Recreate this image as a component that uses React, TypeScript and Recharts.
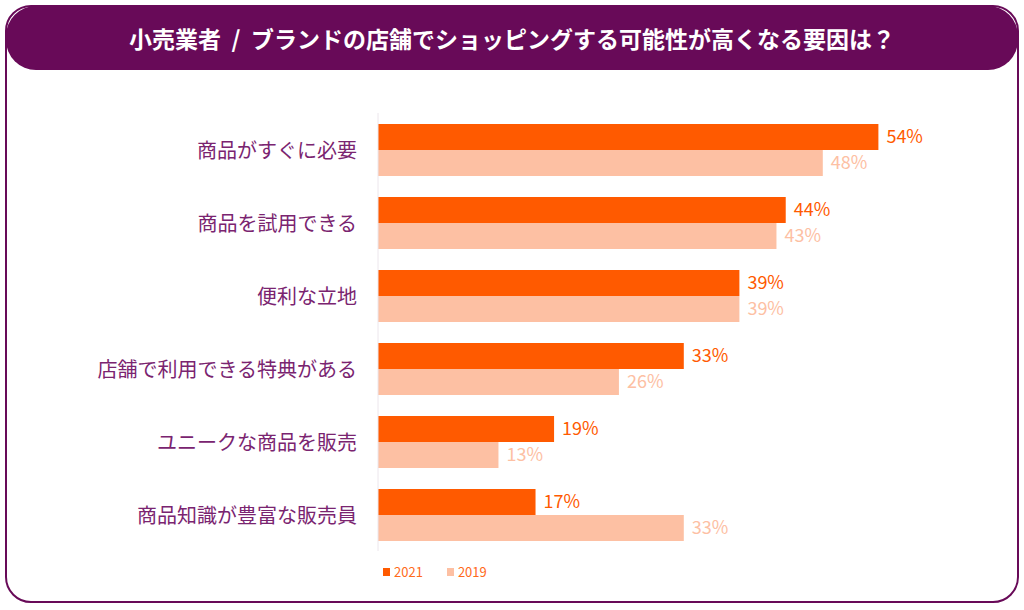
import { BarChart, Bar, XAxis, YAxis, LabelList, Legend } from "recharts";

const categories = [
  "商品がすぐに必要",
  "商品を試用できる",
  "便利な立地",
  "店舗で利用できる特典がある",
  "ユニークな商品を販売",
  "商品知識が豊富な販売員",
];
const values2021 = [54, 44, 39, 33, 19, 17];
const values2019 = [48, 43, 39, 26, 13, 33];
const seriesNames = ["2021", "2019"];

const title = "小売業者 \u00a0/\u00a0 ブランドの店舗でショッピングする可能性が高くなる要因は？";

const PURPLE = "#680a58";
const ORANGE = "#ff5a00";
const PEACH = "#fdc0a3";
const FONT = '"Noto Sans CJK JP", "Noto Sans", sans-serif';

const data = categories.map((name, i) => ({
  name,
  y2021: values2021[i],
  y2019: values2019[i],
}));

function CategoryTick(props: any) {
  const { x, y, payload } = props;
  return (
    <text
      x={x - 13}
      y={y}
      textAnchor="end"
      dominantBaseline="central"
      fontSize={20}
      fill="#7a2470"
      fontFamily={FONT}
    >
      {payload.value}
    </text>
  );
}

function LegendBox() {
  const items = [
    { label: seriesNames[0], color: ORANGE },
    { label: seriesNames[1], color: PEACH },
  ];
  return (
    <div style={{ display: "flex", gap: 24, fontFamily: FONT, fontSize: 13 }}>
      {items.map((it) => (
        <div key={it.label} style={{ display: "flex", alignItems: "center" }}>
          <span
            style={{
              width: 7,
              height: 8,
              background: it.color,
              display: "inline-block",
              marginRight: 4,
            }}
          />
          <span style={{ color: "#ff6a1a" }}>{it.label}</span>
        </div>
      ))}
    </div>
  );
}

export default function App() {
  return (
    <div
      style={{
        position: "absolute",
        left: 0,
        top: 0,
        width: 1024,
        height: 610,
        background: "#fff",
        fontFamily: FONT,
      }}
    >
      <div
        style={{
          position: "absolute",
          left: 5,
          top: 5,
          width: 1010,
          height: 594,
          border: `2px solid ${PURPLE}`,
          borderRadius: 26,
        }}
      />
      <div
        style={{
          position: "absolute",
          left: 6,
          top: 6,
          width: 1012,
          height: 64,
          background: PURPLE,
          borderRadius: 30,
          color: "#fff",
          fontWeight: "bold",
          fontSize: 23,
          display: "flex",
          alignItems: "center",
          justifyContent: "center",
        }}
      >
        {title}
      </div>
      <div style={{ position: "absolute", left: 0, top: 0 }}>
        <BarChart
          width={1024}
          height={610}
          data={data}
          layout="vertical"
          margin={{ top: 113, bottom: 59, left: 8, right: 90 }}
          barGap={0}
        >
          <XAxis type="number" domain={[0, 60]} hide />
          <YAxis
            type="category"
            dataKey="name"
            width={370}
            tickLine={false}
            axisLine={{ stroke: "#ece6ec" }}
            tick={<CategoryTick />}
            interval={0}
          />
          <Legend
            verticalAlign="middle"
            align="center"
            wrapperStyle={{ left: 383, top: 562, width: 200 }}
            content={() => <LegendBox />}
          />
          <Bar dataKey="y2021" name={seriesNames[0]} fill={ORANGE} barSize={26} isAnimationActive={false}>
            <LabelList
              dataKey="y2021"
              position="right"
              offset={8}
              formatter={(v: any) => `${v}%`}
              style={{ fill: ORANGE, fontSize: 18, fontFamily: FONT }}
            />
          </Bar>
          <Bar dataKey="y2019" name={seriesNames[1]} fill={PEACH} barSize={26} isAnimationActive={false}>
            <LabelList
              dataKey="y2019"
              position="right"
              offset={8}
              formatter={(v: any) => `${v}%`}
              style={{ fill: PEACH, fontSize: 18, fontFamily: FONT }}
            />
          </Bar>
        </BarChart>
      </div>
    </div>
  );
}
